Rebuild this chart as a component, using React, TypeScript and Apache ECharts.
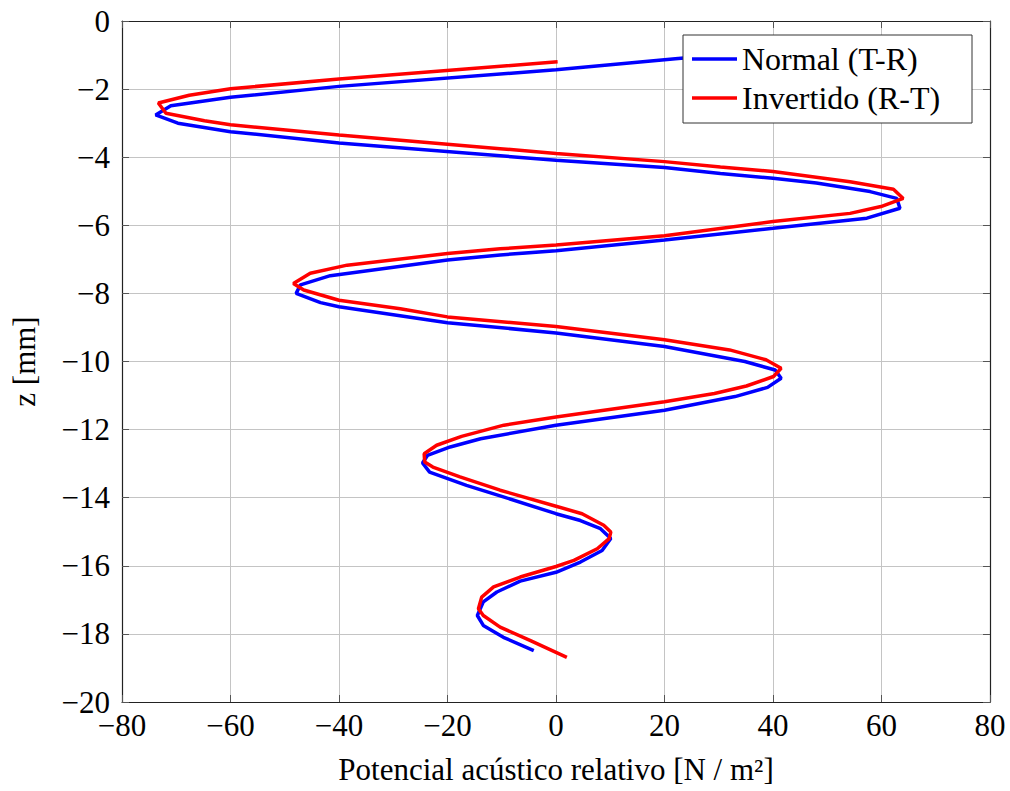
import React, { useEffect, useRef } from "react";
import * as echarts from "echarts";

// Normal (T-R) profile: acoustic potential vs depth z
const normalX = [30, 22, 0, -40, -60, -71, -73.8, -69.7, -60, -40, 0, 20, 30.3, 40, 48, 57.9, 62.8, 63.4, 57.3, 40, 20, 0, -10.3, -20, -41.6, -47.1, -47.9, -43.4, -40, -20, 0, 20, 34.8, 40.4, 41.5, 39, 33, 20, 0, -13.9, -19.5, -23.7, -24.6, -23.3, -16.5, -10, 0, 4.5, 8.2, 10.1, 8.5, 4.5, 0, -6.6, -10.9, -13.4, -14.5, -13.4, -9.7, -4.1];
const normalZ = [-1.0, -1.11, -1.43, -1.92, -2.24, -2.49, -2.76, -3.0, -3.25, -3.58, -4.09, -4.3, -4.48, -4.62, -4.76, -5.01, -5.21, -5.5, -5.79, -6.09, -6.43, -6.75, -6.87, -7.02, -7.48, -7.75, -8.0, -8.27, -8.39, -8.86, -9.16, -9.56, -10.0, -10.25, -10.49, -10.76, -11.03, -11.43, -11.87, -12.27, -12.51, -12.76, -12.98, -13.25, -13.64, -13.96, -14.47, -14.67, -14.91, -15.2, -15.55, -15.89, -16.19, -16.45, -16.77, -17.06, -17.46, -17.75, -18.1, -18.49];

// Invertido (R-T) profile
const invertX = [0.3, -40, -60, -67.6, -73.3, -71.9, -64.8, -60, -40, -10.3, 0, 20, 30.3, 40, 54.2, 62.2, 64, 59.9, 54.2, 40, 20, 0, -10.3, -20, -38.5, -45.3, -48.4, -46.5, -40, -28.7, -20, 0, 20, 32, 38.7, 41.5, 40.1, 35.1, 29.2, 20, 0, -9.6, -17.4, -22, -24.3, -24.2, -22.7, -17.7, -10.3, 0, 4.8, 8.8, 10.1, 9.8, 7.6, 3.3, 0, -6.6, -11.5, -13.7, -14.3, -13.4, -10.3, -4.7, 2.0];
const invertZ = [-1.2, -1.7, -1.99, -2.18, -2.41, -2.71, -2.93, -3.05, -3.35, -3.75, -3.89, -4.13, -4.29, -4.42, -4.72, -4.94, -5.21, -5.45, -5.65, -5.89, -6.31, -6.58, -6.69, -6.83, -7.17, -7.41, -7.71, -7.9, -8.2, -8.45, -8.69, -8.97, -9.36, -9.66, -9.95, -10.2, -10.44, -10.72, -10.94, -11.18, -11.63, -11.87, -12.2, -12.46, -12.71, -12.95, -13.1, -13.39, -13.78, -14.25, -14.47, -14.81, -15.01, -15.2, -15.5, -15.84, -16.02, -16.33, -16.62, -16.92, -17.26, -17.46, -17.8, -18.2, -18.69];

const seriesNames = ["Normal (T-R)", "Invertido (R-T)"];
const seriesColors = ["#0000ff", "#ff0000"];
const xRange = { min: -80, max: 80, interval: 20 };
const zRange = { min: -20, max: 0, interval: 2 };

const FONT = "Liberation Serif";
const minus = (v: number) => String(v).replace("-", "\u2212");

export default function App() {
  const ref = useRef<HTMLDivElement>(null);

  useEffect(() => {
    if (!ref.current) return;
    const chart = echarts.init(ref.current, undefined, { renderer: "svg" });

    const pair = (xs: number[], zs: number[]) => xs.map((x, i) => [x, zs[i]]);
    const frame = { show: true, onZero: false, lineStyle: { color: "#222", width: 1.2 } };
    const tick = { show: true, inside: true, length: 7, lineStyle: { color: "#555", width: 1 } };
    const label = { color: "#000", fontFamily: FONT, fontSize: 31 };
    const grid = { show: true, lineStyle: { color: "#c4c4c4", width: 1 } };

    chart.setOption({
      animation: false,
      backgroundColor: "#fff",
      textStyle: { fontFamily: FONT },
      grid: { left: 122, right: 20, top: 21, bottom: 89, containLabel: false },
      xAxis: [
        {
          type: "value", ...xRange, position: "bottom",
          axisLine: frame, axisTick: tick,
          axisLabel: { ...label, margin: 8, formatter: minus },
          splitLine: grid,
          name: "Potencial acústico relativo [N / m²]",
          nameLocation: "middle", nameGap: 52,
          nameTextStyle: { ...label },
        },
        {
          type: "value", ...xRange, position: "top",
          axisLine: frame, axisTick: tick, axisLabel: { show: false },
          splitLine: { show: false },
        },
      ],
      yAxis: [
        {
          type: "value", ...zRange, position: "left",
          axisLine: frame, axisTick: tick,
          axisLabel: { ...label, margin: 12, formatter: minus },
          splitLine: grid,
          name: "z [mm]", nameLocation: "middle", nameGap: 82,
          nameTextStyle: { ...label },
        },
        {
          type: "value", ...zRange, position: "right",
          axisLine: frame, axisTick: tick, axisLabel: { show: false },
          splitLine: { show: false },
        },
      ],
      graphic: [
        {
          type: "rect", z: 10,
          shape: { x: 683, y: 35, width: 289, height: 88 },
          style: { fill: "#fff", stroke: "#333", lineWidth: 1 },
        },
      ],
      legend: {
        z: 11,
        orient: "vertical",
        left: 692, top: 41,
        padding: 0,
        icon: "rect",
        itemWidth: 45, itemHeight: 3.5, itemGap: 3,
        data: seriesNames,
        textStyle: { ...label, fontSize: 32, lineHeight: 36 },
      },
      series: seriesNames.map((name, i) => ({
        name, type: "line", symbol: "none",
        data: i === 0 ? pair(normalX, normalZ) : pair(invertX, invertZ),
        lineStyle: { color: seriesColors[i], width: 3.5 },
        itemStyle: { color: seriesColors[i] },
      })),
    });

    return () => chart.dispose();
  }, []);

  return (
    <div
      ref={ref}
      style={{ position: "fixed", left: 0, top: 0, width: 1010, height: 791, background: "#fff" }}
    />
  );
}
